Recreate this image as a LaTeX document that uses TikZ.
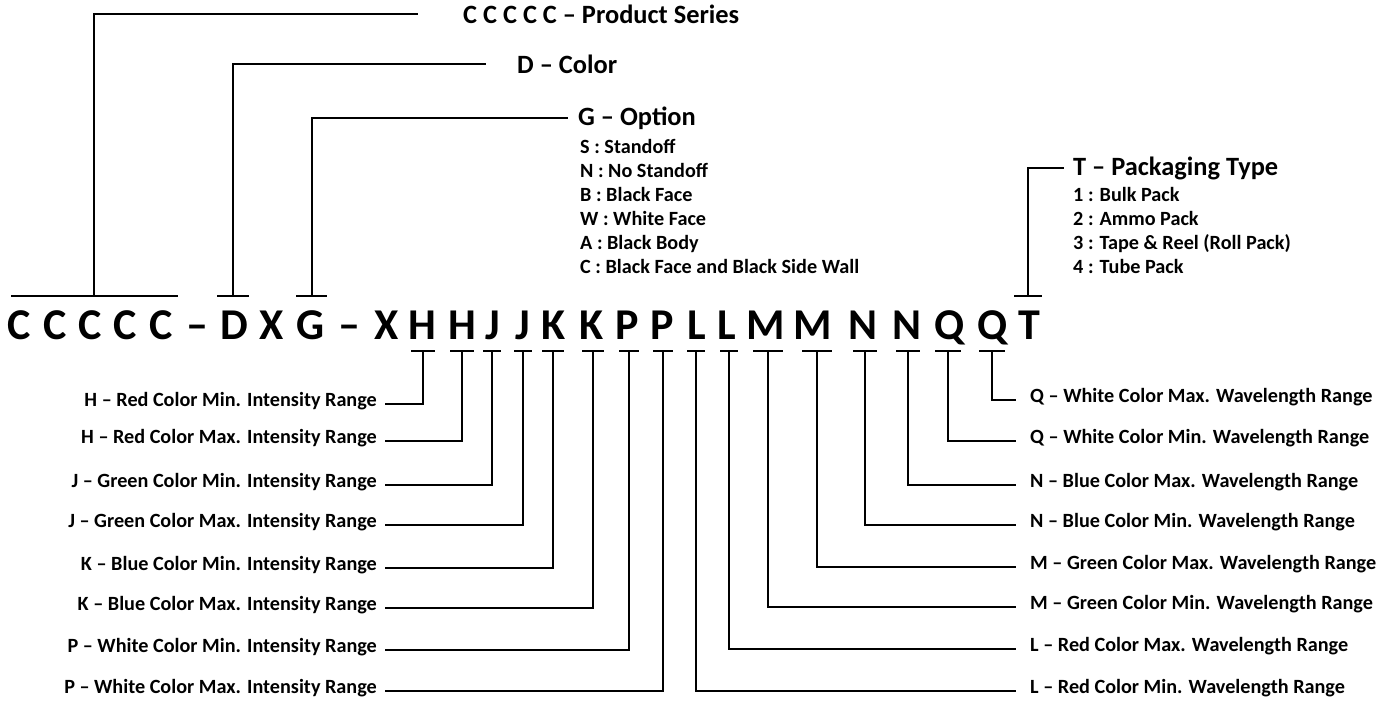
\documentclass[tikz,border=0pt]{standalone}
\usepackage{fontspec}
\setmainfont{Carlito}
\begin{document}
\begin{tikzpicture}[x=1pt,y=-1pt,
  conn/.style={line width=1.8pt,line cap=rect},
  big/.style={inner sep=0pt,anchor=base,font=\fontsize{44}{44}\selectfont\bfseries},
  title/.style={inner sep=0pt,anchor=mid west,font=\fontsize{26.4}{26.4}\selectfont\bfseries},
  item/.style={inner sep=0pt,anchor=mid west,font=\fontsize{20.2}{20.2}\selectfont\bfseries},
  lbl/.style={inner sep=0pt,font=\fontsize{20.2}{20.2}\selectfont\bfseries}]
\useasboundingbox (0,0) rectangle (1395,704);
% code letters
\foreach \n/\x/\c in {c1/19/C,c2/55/C,c3/90/C,c4/125/C,c5/161/C,da/197/--,d/234/D,xa/272/X,g/311/G,db/349/--,xb/387/X,
  h1/422/H,h2/462/H,j1/493/J,j2/523/J,k1/554/K,k2/592/K,p1/627/P,p2/662/P,
  l1/697/L,l2/727/L,m1/766/M,m2/813/M,n1/863/N,n2/907/N,q1/950/Q,q2/993/Q,t/1029/T}
  \node[big] (\n) at (\x,339) {\c};
% top labels
\node[title] (tc) at (463,21) {C C C C C -- Product Series};
\node[title] (td) at (517,71) {D -- Color};
\node[title] (tg) at (578,123) {G -- Option};
\node[title] (tt) at (1073,173) {T -- Packaging Type};
\node[item] (g1) at (580,151) {S : Standoff};
\node[item] (g2) at (580,175) {N : No Standoff};
\node[item] (g3) at (580,199) {B : Black Face};
\node[item] (g4) at (580,223) {W : White Face};
\node[item] (g5) at (580,247) {A : Black Body};
\node[item] (g6) at (580,271) {C : Black Face and Black Side Wall};
\node[item] (t1) at (1073,199) {1 : Bulk Pack};
\node[item] (t2) at (1073,223) {2 : Ammo Pack};
\node[item] (t3) at (1073,247) {3 : Tape \& Reel (Roll Pack)};
\node[item] (t4) at (1073,271) {4 : Tube Pack};
% top connectors
\coordinate (uc) at (94,296);
\draw[conn] (12,296) -- (177,296);
\draw[conn] (uc) |- ([xshift=-46pt]tc.west);
\coordinate (ud) at (233,296);
\draw[conn] (218,296) -- (248,296);
\draw[conn] (ud) |- ([xshift=-32pt]td.west);
\coordinate (ug) at (312,296);
\draw[conn] (297,296) -- (326,296);
\draw[conn] (ug) |- ([xshift=-11pt]tg.west);
\coordinate (ut) at (1028,296);
\draw[conn] (1015,296) -- (1041,296);
\draw[conn] (ut) |- ([xshift=-10pt]tt.west);
% bottom left labels
\foreach \n/\tx/\hw/\y/\txt in {h1/423/11/404/H -- Red Color Min. Intensity Range,
  h2/462/11/441/H -- Red Color Max. Intensity Range,
  j1/492/8/485/J -- Green Color Min. Intensity Range,
  j2/523/8/525/J -- Green Color Max. Intensity Range,
  k1/553/10/568/K -- Blue Color Min. Intensity Range,
  k2/593/10/608/K -- Blue Color Max. Intensity Range,
  p1/629/9/650/P -- White Color Min. Intensity Range,
  p2/663/9/691/P -- White Color Max. Intensity Range}{
  \coordinate (a\n) at (\tx,351);
  \draw[conn] ([xshift=-\hw pt]a\n) -- ([xshift=\hw pt]a\n);
  \node[lbl,anchor=mid east] (L\n) at (377,\y) {\txt};
  \draw[conn] ([xshift=9pt]L\n.mid east) -| (a\n);
}
% bottom right labels
\foreach \n/\tx/\hw/\y/\txt in {q2/992/12/400/Q -- White Color Max. Wavelength Range,
  q1/948/12/441/Q -- White Color Min. Wavelength Range,
  n2/908/11/485/N -- Blue Color Max. Wavelength Range,
  n1/865/11/525/N -- Blue Color Min. Wavelength Range,
  m2/817/14/567/M -- Green Color Max. Wavelength Range,
  m1/768/14/607/M -- Green Color Min. Wavelength Range,
  l2/729/8/649/L -- Red Color Max. Wavelength Range,
  l1/696/8/691/L -- Red Color Min. Wavelength Range}{
  \coordinate (a\n) at (\tx,351);
  \draw[conn] ([xshift=-\hw pt]a\n) -- ([xshift=\hw pt]a\n);
  \node[lbl,anchor=mid west] (L\n) at (1030,\y) {\txt};
  \draw[conn] ([xshift=-15pt]L\n.mid west) -| (a\n);
}
\end{tikzpicture}
\end{document}
